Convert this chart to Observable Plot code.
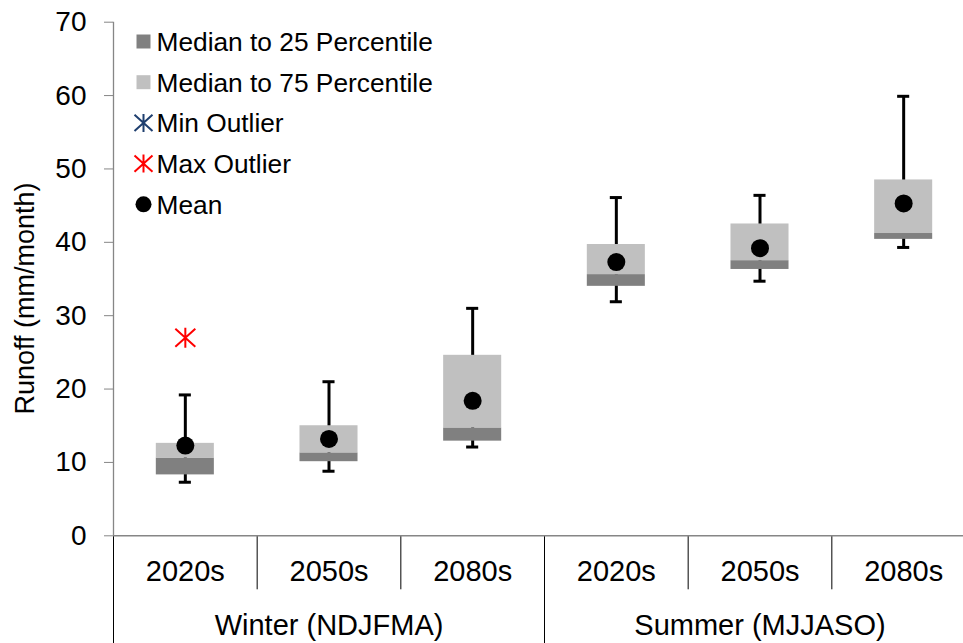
<!DOCTYPE html>
<html>
<head>
<meta charset="utf-8">
<script src="https://cdn.jsdelivr.net/npm/d3@7"></script>
<script src="https://cdn.jsdelivr.net/npm/@observablehq/plot@0.6"></script>
<style>
  html, body { margin: 0; padding: 0; background: #fff; overflow: hidden; }
  #chart svg { display: block; }
</style>
</head>
<body>
<div id="chart"></div>
<script>
// ---- data ----
const seasons = ["Winter (NDJFMA)", "Summer (MJJASO)"];
const periods = ["2020s", "2050s", "2080s"];
const whiskerLow  = [7.3, 8.8, 12.1, 31.9, 34.7, 39.3];
const q25         = [8.3, 10.1, 12.9, 34.0, 36.3, 40.4];
const median      = [10.6, 11.3, 14.7, 35.6, 37.5, 41.2];
const q75         = [12.6, 15.0, 24.6, 39.7, 42.5, 48.5];
const whiskerHigh = [19.2, 21.0, 31.0, 46.1, 46.4, 59.9];
const means       = [12.3, 13.2, 18.4, 37.3, 39.2, 45.3];
const maxOutlierIndex = [0];
const maxOutlierValue = [27.0];
const yTicks = [0, 10, 20, 30, 40, 50, 60, 70];
const legendLabels = ["Median to 25 Percentile", "Median to 75 Percentile", "Min Outlier", "Max Outlier", "Mean"];

// ---- table built from arrays ----
const rows = [];
seasons.forEach((s, si) => periods.forEach((p, pi) => {
  const i = si * periods.length + pi;
  rows.push({i, season: s, period: p, lo: whiskerLow[i], q25: q25[i], med: median[i], q75: q75[i], hi: whiskerHigh[i], mean: means[i]});
}));
const outliers = maxOutlierIndex.map((idx, k) => ({i: idx, value: maxOutlierValue[k]}));
const nCat = rows.length;
const boundaries = d3.range(nCat + 1);
const groupBoundaries = boundaries.filter(b => b % periods.length === 0);
const yearBoundaries = boundaries.filter(b => b % periods.length !== 0);
const groups = seasons.map((s, si) => ({season: s, c: si * periods.length + periods.length / 2}));

const center = d => d.i + 0.5;
const boxHalf = 0.202;
const capHalf = 0.042;

const asterisk = {
  draw(ctx, size) {
    const r = Math.sqrt(size / Math.PI);
    ctx.moveTo(0, -r); ctx.lineTo(0, r);
    ctx.moveTo(-r, -0.9 * r); ctx.lineTo(r, 0.9 * r);
    ctx.moveTo(-r, 0.9 * r); ctx.lineTo(r, -0.9 * r);
  }
};

const font = "'Liberation Sans', Arial, sans-serif";
const axisGray = "#868686";
const legendStep = 40.7;

const legendMarks = [
  Plot.dot([0], {frameAnchor: "top-left", dx: 30, dy: 19.3 + 0 * legendStep, symbol: "square", r: 7.9, fill: "#808080"}),
  Plot.dot([0], {frameAnchor: "top-left", dx: 30, dy: 19.3 + 1 * legendStep, symbol: "square", r: 7.9, fill: "#C0C0C0"}),
  Plot.dot([0], {frameAnchor: "top-left", dx: 30, dy: 19.3 + 2 * legendStep, symbol: asterisk, r: 9, fill: "none", stroke: "#1F3F6F", strokeWidth: 2}),
  Plot.dot([0], {frameAnchor: "top-left", dx: 30, dy: 19.3 + 3 * legendStep, symbol: asterisk, r: 9, fill: "none", stroke: "#FF0000", strokeWidth: 2}),
  Plot.dot([0], {frameAnchor: "top-left", dx: 30, dy: 19.3 + 4 * legendStep, r: 8, fill: "black"}),
  ...legendLabels.map((t, k) => Plot.text([t], {frameAnchor: "top-left", lineAnchor: "middle", textAnchor: "start", dx: 43, dy: 20.3 + k * legendStep, fontSize: 26.3, fill: "black"}))
];

const chart = Plot.plot({
  width: 963,
  height: 643,
  marginLeft: 113,
  marginRight: 0,
  marginTop: 21.7,
  marginBottom: 107.7,
  style: {fontFamily: font, background: "white", color: "black"},
  x: {domain: [0, nCat], range: [113, 975], axis: null},
  y: {domain: [0, 70], axis: null},
  marks: [
    // y axis
    Plot.axisY({ticks: yTicks, tickSize: 9, tickPadding: 18, fontSize: 28, stroke: axisGray, fill: "black", label: null, tickFormat: d3.format("d")}),
    Plot.ruleX([0], {y1: 0, y2: 70, stroke: axisGray, strokeWidth: 1.3}),
    // category dividers below the axis
    Plot.ruleX(yearBoundaries, {x: d => d, y1: 0, y2: 0, insetBottom: -54, stroke: "black", strokeWidth: 1}),
    Plot.ruleX(groupBoundaries, {x: d => d, y1: 0, y2: 0, insetBottom: -110, stroke: "black", strokeWidth: 1}),
    Plot.ruleY([0], {stroke: axisGray, strokeWidth: 1.5}),
    // category labels
    Plot.text(rows, {x: center, y: 0, text: "period", dy: 36, fontSize: 29, fill: "black"}),
    Plot.text(groups, {x: "c", y: 0, text: "season", dy: 90, fontSize: 29, fill: "black"}),
    // y title
    Plot.text(["Runoff (mm/month)"], {frameAnchor: "left", textAnchor: "middle", lineAnchor: "middle", rotate: -90, dx: -88, dy: 19.5, fontSize: 27, fill: "black"}),
    // whiskers
    Plot.ruleX(rows, {x: center, y1: "lo", y2: "hi", stroke: "black", strokeWidth: 3}),
    Plot.ruleY(rows, {y: "lo", x1: d => center(d) - capHalf, x2: d => center(d) + capHalf, stroke: "black", strokeWidth: 3}),
    Plot.ruleY(rows, {y: "hi", x1: d => center(d) - capHalf, x2: d => center(d) + capHalf, stroke: "black", strokeWidth: 3}),
    // boxes
    Plot.rect(rows, {x1: d => center(d) - boxHalf, x2: d => center(d) + boxHalf, y1: "q25", y2: "med", fill: "#808080"}),
    Plot.rect(rows, {x1: d => center(d) - boxHalf, x2: d => center(d) + boxHalf, y1: "med", y2: "q75", fill: "#C0C0C0"}),
    // means
    Plot.dot(rows, {x: center, y: "mean", r: 9, fill: "black"}),
    // max outliers
    Plot.dot(outliers, {x: center, y: "value", symbol: asterisk, r: 10, fill: "none", stroke: "#FF0000", strokeWidth: 2}),
    ...legendMarks
  ]
});

document.getElementById("chart").appendChild(chart);
</script>
</body>
</html>
